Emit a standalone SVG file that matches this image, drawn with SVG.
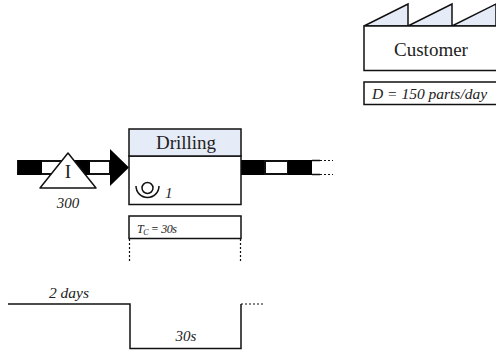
<svg xmlns="http://www.w3.org/2000/svg" width="496" height="352" viewBox="0 0 496 352">
<style>
text{font-family:"Liberation Serif","Times New Roman",serif;fill:#222}
.i{font-style:italic}
.s{fill:none;stroke:#111;stroke-width:1.5}
.b{fill:#fff;stroke:#111;stroke-width:1.5}
.h{fill:#e6ecf7;stroke:#111;stroke-width:1.5}
.d{fill:none;stroke:#111;stroke-width:1.2;stroke-dasharray:2 2}
</style>
<g id="connectors">
<g id="push-in">
<rect x="18" y="161" width="92" height="13" fill="#fff" stroke="#111" stroke-width="2"/>
<rect x="18" y="160" width="24" height="15" fill="#000"/>
<rect x="66" y="160" width="24" height="15" fill="#000"/>
<polygon points="110,149 129,167.500 110,186" fill="#000"/>
</g>
<g id="push-out">
<rect x="241" y="160" width="24" height="15" fill="#000"/>
<rect x="265" y="161" width="23" height="13" fill="#fff" stroke="#111" stroke-width="2"/>
<rect x="288" y="160" width="24" height="15" fill="#000"/>
<path class="s" d="M312 160.500H320M312 174.500H320"/>
<path class="d" d="M320 160.500H333M320 174.500H333"/>
</g>
</g>
<g id="inventory">
<polygon class="b" points="68,153 96,188 40,188" stroke-linejoin="round"/>
<text x="68" y="178" font-size="19" text-anchor="middle">I</text>
<text class="i" x="68" y="208" font-size="15" text-anchor="middle">300</text>
</g>
<g id="drilling">
<rect class="b" x="129" y="156" width="112" height="48.500"/>
<rect class="h" x="129" y="129" width="112" height="27"/>
<text x="186" y="149" font-size="19" text-anchor="middle">Drilling</text>
<path class="s" d="M136 186A9.500 9.500 0 0 0 159 186"/>
<circle class="s" cx="147.500" cy="188" r="5.500"/>
<text class="i" x="165" y="198" font-size="15">1</text>
</g>
<g id="data-box">
<rect class="b" x="129" y="216" width="112" height="22.500"/>
<text class="i" x="137" y="233" font-size="12" textLength="40" lengthAdjust="spacing">T<tspan font-size="8" dy="1.500">C</tspan><tspan dy="-1.500"> = 30s</tspan></text>
<path class="d" d="M129.500 239V262M240.500 239V262"/>
</g>
<g id="customer">
<path class="h" d="M364 26L408 4V26L452 4V26L496 4V26Z"/>
<rect class="b" x="364" y="26" width="134" height="44.500"/>
<text x="431" y="56" font-size="19" text-anchor="middle">Customer</text>
<rect class="b" x="364" y="82" width="134" height="22.500"/>
<text class="i" x="372" y="99" font-size="15.500">D = 150 parts/day</text>
</g>
<g id="timeline">
<path class="s" d="M8 304H130V348.500H241V304"/>
<path class="d" d="M241 304H263"/>
<text class="i" x="69" y="298" font-size="15.500" text-anchor="middle">2 days</text>
<text class="i" x="186" y="341" font-size="15" text-anchor="middle">30s</text>
</g>
</svg>
